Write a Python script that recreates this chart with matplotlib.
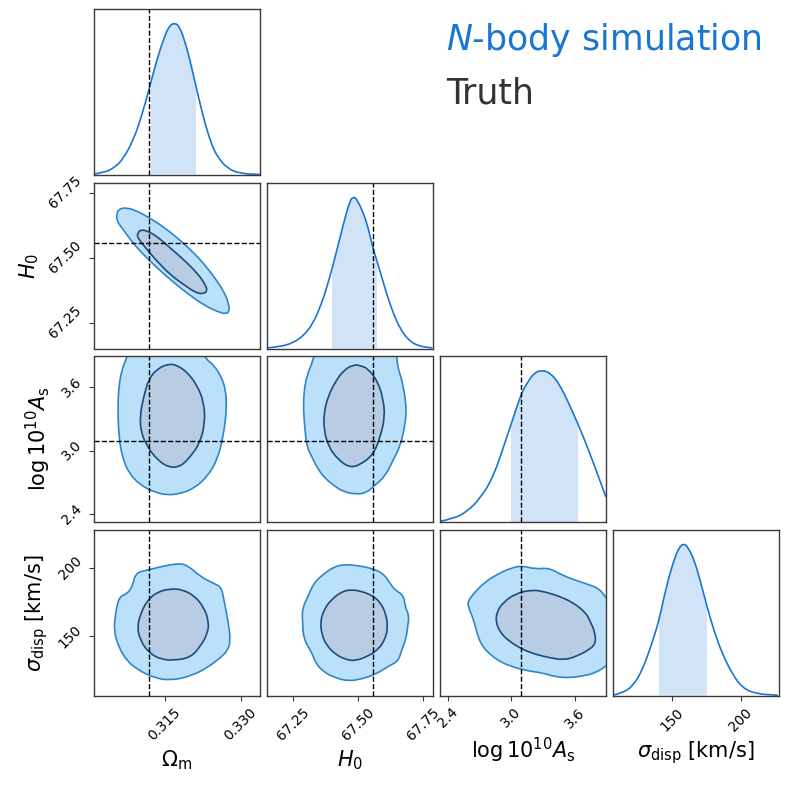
import numpy as np
import matplotlib.pyplot as plt
from matplotlib.ticker import MultipleLocator
from matplotlib.path import Path
from matplotlib.patches import PathPatch, Rectangle

# parameters
labels = [r"$\Omega_\mathrm{m}$", r"$H_0$", r"$\log10^{10}A_\mathrm{s}$",
          r"$\sigma_\mathrm{disp}$ [km/s]"]
truths = [0.312, 67.557, 3.092, None]
ranges = [(0.3011, 0.3337), (67.15, 67.787), (2.327, 3.89), (107.0, 227.5)]
tick_steps = [0.015, 0.25, 0.6, 50]

# 1D marginals (relative density, peak = 1)
om_grid = [0.30105, 0.30302, 0.30500, 0.30697, 0.30895, 0.31026, 0.31125, 0.31224,
           0.31355, 0.31487, 0.31586, 0.31697, 0.31803, 0.31915, 0.32013, 0.32125,
           0.32244, 0.32342, 0.32441, 0.32540, 0.32737, 0.33000, 0.33375]
om_pdf = [0.003, 0.013, 0.041, 0.108, 0.238, 0.367, 0.48, 0.605,
          0.77, 0.906, 0.985, 1.01, 0.98, 0.868, 0.742, 0.577,
          0.408, 0.287, 0.189, 0.119, 0.039, 0.006, 0.0]
h0_grid = [67.149, 67.200, 67.251, 67.290, 67.328, 67.360, 67.379, 67.401,
           67.424, 67.450, 67.469, 67.482, 67.497, 67.521, 67.540, 67.556,
           67.572, 67.591, 67.610, 67.636, 67.662, 67.694, 67.732, 67.786]
h0_pdf = [0.004, 0.011, 0.038, 0.084, 0.167, 0.30, 0.40, 0.533,
          0.689, 0.867, 0.98, 1.01, 0.99, 0.90, 0.80, 0.678,
          0.589, 0.478, 0.367, 0.233, 0.133, 0.056, 0.016, 0.004]
as_grid = [2.326, 2.452, 2.579, 2.706, 2.832, 2.959, 3.000, 3.095, 3.149,
           3.212, 3.291, 3.370, 3.449, 3.529, 3.633, 3.718, 3.813, 3.893]
as_pdf = [0.004, 0.022, 0.067, 0.156, 0.30, 0.567, 0.653, 0.856, 0.922,
          0.99, 1.01, 0.99, 0.922, 0.811, 0.648, 0.50, 0.322, 0.167]
sig_grid = [107.0, 114.3, 121.5, 128.7, 136.0, 140.8, 145.7, 151.7, 155.3, 158.2,
            161.4, 166.2, 171.0, 175.1, 180.7, 186.7, 194.0, 201.2, 210.9, 227.0]
sig_pdf = [0.002, 0.018, 0.063, 0.174, 0.364, 0.509, 0.721, 0.911, 0.985, 1.01,
           0.99, 0.90, 0.748, 0.603, 0.424, 0.275, 0.141, 0.051, 0.011, 0.002]
intervals = [(0.31224, 0.32125), (67.401, 67.572), (3.000, 3.633), (140.8, 175.1)]

# 2D credible contours (68% inner, 95% outer)
om_h0_outer = ([0.30552, 0.30599, 0.30763, 0.30960, 0.31158, 0.31421, 0.31684, 0.31947,
                0.32211, 0.32474, 0.32671, 0.32763, 0.32777, 0.32704, 0.32540, 0.32276,
                0.31947, 0.31618, 0.31289, 0.31026, 0.30829, 0.30664, 0.30566],
               [67.665, 67.688, 67.692, 67.679, 67.658, 67.626, 67.587, 67.542,
                67.491, 67.427, 67.369, 67.324, 67.292, 67.283, 67.292, 67.317,
                67.362, 67.414, 67.472, 67.523, 67.568, 67.613, 67.639])
om_h0_inner = ([0.30974, 0.31026, 0.31158, 0.31355, 0.31618, 0.31882, 0.32145, 0.32309,
                0.32342, 0.32244, 0.32112, 0.31882, 0.31618, 0.31355, 0.31158, 0.31026,
                0.30960],
               [67.594, 67.607, 67.603, 67.581, 67.536, 67.491, 67.440, 67.395,
                67.369, 67.360, 67.365, 67.395, 67.433, 67.485, 67.530, 67.562,
                67.581])
om_as_outer = ([0.32211, 0.30796, 0.30750, 0.30664, 0.30599, 0.30579, 0.30599, 0.30664,
                0.30796, 0.31026, 0.31289, 0.31553, 0.31816, 0.32079, 0.32342, 0.32540,
                0.32658, 0.32724, 0.32704, 0.32605, 0.32474, 0.32309],
               [3.965, 3.965, 3.870, 3.774, 3.615, 3.392, 3.137, 2.946,
                2.787, 2.675, 2.611, 2.580, 2.596, 2.643, 2.755, 2.914,
                3.137, 3.392, 3.583, 3.710, 3.806, 3.870])
om_as_inner = ([0.31586, 0.31355, 0.31191, 0.31092, 0.31013, 0.31039, 0.31158, 0.31355,
                0.31586, 0.31816, 0.32013, 0.32197, 0.32296, 0.32276, 0.32145, 0.31947,
                0.31750],
               [3.822, 3.774, 3.678, 3.519, 3.328, 3.169, 3.041, 2.914,
                2.841, 2.850, 2.946, 3.073, 3.264, 3.455, 3.615, 3.742,
                3.806])
om_sig_outer = ([0.30928, 0.31158, 0.31421, 0.31750, 0.31947, 0.32211, 0.32474, 0.32619,
                 0.32671, 0.32750, 0.32803, 0.32737, 0.32605, 0.32342, 0.32013, 0.31618,
                 0.31289, 0.30960, 0.30763, 0.30599, 0.30500, 0.30533, 0.30599, 0.30763,
                 0.30862],
                [196.3, 198.3, 200.7, 203.2, 202.0, 193.4, 188.5, 186.0,
                 176.2, 161.5, 146.8, 139.5, 134.6, 127.2, 121.1, 117.9,
                 119.9, 126.0, 132.1, 141.9, 154.2, 166.4, 178.7, 181.1,
                 186.0])
om_sig_inner = ([0.31618, 0.31355, 0.31158, 0.31026, 0.30960, 0.31026, 0.31191, 0.31421,
                 0.31684, 0.32013, 0.32211, 0.32342, 0.32375, 0.32276, 0.32079, 0.31849],
                [184.8, 182.4, 176.2, 166.4, 156.6, 146.8, 138.2, 133.3,
                 132.6, 134.6, 143.1, 151.7, 160.3, 171.3, 179.9, 184.1])
h0_as_outer = ([67.649, 67.335, 67.328, 67.303, 67.292, 67.290, 67.296, 67.303,
                67.322, 67.341, 67.367, 67.405, 67.444, 67.495, 67.533, 67.565,
                67.604, 67.636, 67.662, 67.678, 67.687, 67.681, 67.668, 67.655,
                67.649],
               [3.965, 3.965, 3.854, 3.710, 3.551, 3.392, 3.201, 3.041,
                2.946, 2.850, 2.755, 2.675, 2.611, 2.589, 2.602, 2.675,
                2.755, 2.914, 3.041, 3.201, 3.360, 3.519, 3.678, 3.774,
                3.870])
h0_as_inner = ([67.482, 67.444, 67.412, 67.386, 67.369, 67.369, 67.386, 67.424,
                67.469, 67.508, 67.559, 67.587, 67.604, 67.597, 67.578, 67.540,
                67.508],
               [3.812, 3.758, 3.647, 3.519, 3.360, 3.201, 3.041, 2.914,
                2.841, 2.866, 2.962, 3.137, 3.328, 3.487, 3.647, 3.774,
                3.806])
h0_sig_outer = ([67.406, 67.451, 67.503, 67.554, 67.599, 67.624, 67.644, 67.676,
                 67.682, 67.697, 67.692, 67.685, 67.669, 67.656, 67.618, 67.567,
                 67.515, 67.464, 67.413, 67.368, 67.336, 67.323, 67.291, 67.287,
                 67.285, 67.310, 67.329, 67.362],
                [200.7, 202.5, 201.5, 199.5, 195.8, 188.5, 183.6, 179.9,
                 171.3, 165.2, 157.8, 148.0, 140.7, 132.1, 128.4, 122.3,
                 119.1, 117.4, 119.9, 124.0, 130.9, 138.2, 148.0, 160.3,
                 170.1, 179.9, 188.5, 194.6])
h0_sig_inner = ([67.438, 67.477, 67.515, 67.554, 67.586, 67.608, 67.615, 67.605,
                 67.579, 67.541, 67.490, 67.451, 67.413, 67.381, 67.362, 67.355,
                 67.368, 67.394],
                [182.8, 184.1, 182.8, 179.9, 175.0, 166.4, 156.6, 148.0,
                 140.7, 135.8, 132.1, 133.3, 137.0, 143.1, 150.5, 160.3,
                 168.9, 176.2])
as_sig_outer = ([2.595, 2.658, 2.753, 2.880, 3.006, 3.101, 3.228, 3.354, 3.481, 3.608,
                 3.734, 3.829, 3.893, 3.987, 3.987, 3.893, 3.798, 3.671, 3.544, 3.418,
                 3.291, 3.165, 3.038, 2.911, 2.816, 2.721, 2.674, 2.642, 2.589],
                [176.2, 182.4, 189.7, 195.8, 200.0, 201.5, 199.0, 200.0, 194.6, 190.9,
                 187.7, 184.8, 178.7, 167.6, 133.3, 128.4, 123.5, 121.1, 119.9, 120.6,
                 123.5, 124.8, 127.2, 130.9, 135.8, 143.1, 152.9, 162.7, 172.5])
as_sig_inner = ([3.038, 3.196, 3.323, 3.449, 3.576, 3.703, 3.750, 3.791, 3.798, 3.718,
                 3.608, 3.497, 3.354, 3.228, 3.101, 2.975, 2.896, 2.854, 2.864, 2.927],
                [181.1, 184.1, 182.4, 179.4, 175.0, 167.6, 160.3, 152.9, 144.4, 139.5,
                 135.3, 132.8, 134.6, 137.0, 140.7, 146.8, 152.9, 160.3, 168.1, 175.0])

marginals = [(om_grid, om_pdf), (h0_grid, h0_pdf), (as_grid, as_pdf), (sig_grid, sig_pdf)]
contours = {(1, 0): (om_h0_outer, om_h0_inner),
            (2, 0): (om_as_outer, om_as_inner),
            (3, 0): (om_sig_outer, om_sig_inner),
            (2, 1): (h0_as_outer, h0_as_inner),
            (3, 1): (h0_sig_outer, h0_sig_inner),
            (3, 2): (as_sig_outer, as_sig_inner)}

blue = '#1976D2'
outer_fill, outer_edge = '#BBE0FA', '#2F86C9'
inner_fill, inner_edge = '#B8CCE4', '#1E4B7E'
spine_col = '#3a3a3a'


def smooth_closed(xs, ys):
    # quadratic bezier through the read points, drawn by matplotlib's Path
    p = np.column_stack([xs, ys])
    mid = (p + np.roll(p, -1, axis=0)) / 2
    verts = [mid[-1]]
    codes = [Path.MOVETO]
    for k in range(len(p)):
        verts += [p[k], mid[k]]
        codes += [Path.CURVE3, Path.CURVE3]
    verts.append(mid[-1])
    codes.append(Path.CLOSEPOLY)
    return Path(verts, codes)


def smooth_open(xs, ys, close_base=False):
    p = np.column_stack([xs, ys])
    verts = [p[0]]
    codes = [Path.MOVETO]
    for k in range(1, len(p) - 1):
        verts += [p[k], (p[k] + p[k + 1]) / 2]
        codes += [Path.CURVE3, Path.CURVE3]
    verts.append(p[-1])
    codes.append(Path.LINETO)
    if close_base:
        verts += [(p[-1][0], 0), (p[0][0], 0), (p[0][0], 0)]
        codes += [Path.LINETO, Path.LINETO, Path.CLOSEPOLY]
    return Path(verts, codes)


fig = plt.figure(figsize=(7.89, 7.89), dpi=100)
W = 789.0
lefts = [94, 267, 440, 613]
tops = [9, 183, 356.5, 530]
size = 165.5

for i in range(4):
    for j in range(i + 1):
        ax = fig.add_axes([lefts[j] / W, 1 - (tops[i] + size) / W, size / W, size / W])
        for s in ax.spines.values():
            s.set_color(spine_col)
            s.set_linewidth(1.0)
        if i == j:
            x, p = marginals[i]
            lo, hi = intervals[i]
            area = PathPatch(smooth_open(x, p, close_base=True), facecolor=blue,
                             alpha=0.2, lw=0)
            ax.add_patch(area)
            area.set_clip_path(Rectangle((lo, 0), hi - lo, 2, transform=ax.transData))
            ax.add_patch(PathPatch(smooth_open(x, p), facecolor='none',
                                   edgecolor=blue, lw=1.2))
            ax.set_ylim(0, 1.1)
            ax.set_yticks([])
            if truths[i] is not None:
                ax.axvline(truths[i], color='k', ls='--', lw=1.0)
        else:
            outer, inner = contours[(i, j)]
            ax.add_patch(PathPatch(smooth_closed(*outer), facecolor=outer_fill,
                                   edgecolor=outer_edge, lw=1.2))
            ax.add_patch(PathPatch(smooth_closed(*inner), facecolor=inner_fill,
                                   edgecolor=inner_edge, lw=1.2))
            if truths[j] is not None:
                ax.axvline(truths[j], color='k', ls='--', lw=1.0)
            if truths[i] is not None:
                ax.axhline(truths[i], color='k', ls='--', lw=1.0)
            ax.set_ylim(*ranges[i])
            if j == 0:
                ax.yaxis.set_major_locator(MultipleLocator(tick_steps[i]))
                ax.tick_params(axis='y', labelsize=10, labelrotation=45, color=spine_col)
                for t in ax.get_yticklabels():
                    t.set_va('center')
                ax.set_ylabel(labels[i], fontsize=15)
            else:
                ax.set_yticks([])
        ax.set_xlim(*ranges[j])
        if i == 3:
            ax.xaxis.set_major_locator(MultipleLocator(tick_steps[j]))
            ax.tick_params(axis='x', labelsize=10, labelrotation=45, color=spine_col)
            ax.set_xlabel(labels[j], fontsize=15)
        else:
            ax.set_xticks([])

fig.text(446 / W, 1 - 50 / W, r"$N$-body simulation", color=blue, fontsize=25, va='baseline')
fig.text(446 / W, 1 - 103 / W, "Truth", color='#333333', fontsize=25, va='baseline')

fig.savefig('out.png', dpi=100)
